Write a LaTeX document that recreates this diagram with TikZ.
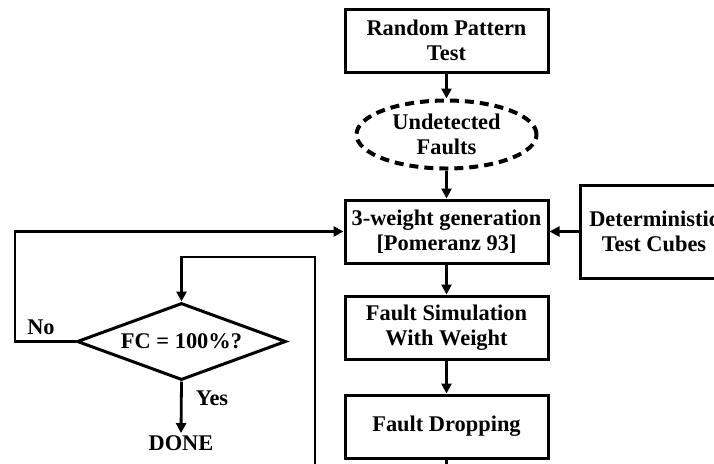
\documentclass[tikz,border=0pt]{standalone}
\usepackage{fontspec}
\setmainfont{Liberation Serif}
\usetikzlibrary{arrows.meta,positioning,shapes.geometric}
\tikzset{
  base/.style={align=center,font=\bfseries\fontsize{11.2}{12.5}\selectfont,inner sep=2pt},
  proc/.style={base,draw,line width=1.5pt,minimum width=101.5pt,minimum height=31.5pt},
  note/.style={base,draw,ellipse,dash pattern=on 4.5pt off 3pt,line width=2pt,
    minimum width=90pt,minimum height=34pt,inner sep=0pt},
  decision/.style={base,draw,diamond,line width=1.5pt,aspect=2.7,inner sep=0pt,
    minimum width=104.5pt,minimum height=38.5pt},
  arrow/.style={-{Triangle[length=5pt,width=5pt]},line width=1.4pt}
}
\begin{document}
\begin{tikzpicture}[x=0.5pt,y=-0.5pt]
\useasboundingbox (0,0) rectangle (714,463);
\clip (0,0) rectangle (714,463);
\node[proc] (rpt) at (446.5,40.5) {Random Pattern\\Test};
\node[note,below=12.5pt of rpt] (undet) {Undetected\\Faults};
\node[proc,below=14pt of undet] (gen) {3-weight generation\\{}[Pomeranz 93]};
\node[proc,below=15pt of gen] (fsim) {Fault Simulation\\With Weight};
\node[proc,below=16.5pt of fsim] (drop) {Fault Dropping};
\node[proc,right=14.5pt of gen,minimum width=74pt,minimum height=46.5pt] (det) {Deterministic\\Test Cubes};
\node[decision] (fc) at (181.5,341.5) {FC = 100\%?};
\node[base,inner sep=1pt] (done) at (181,443) {DONE};
\node[base,anchor=south] (no) at (41,339) {No};
\node[base] (yes) at (212,398) {Yes};
\coordinate (lft) at (15,341.5);
\coordinate (low) at (315,490);
\coordinate (high) at (315,257);
\draw[arrow] (rpt)--(undet); \draw[arrow] (undet)--(gen);
\draw[arrow] (gen)--(fsim); \draw[arrow] (fsim)--(drop);
\draw[arrow] (det)--(gen);
\draw[arrow] (fc.west)--(lft) |- (gen.west);
\draw[arrow] (fc.south)--(done.north);
\draw[arrow] (drop.south) |- (low)--(high) -| (fc.north);
\end{tikzpicture}
\end{document}
